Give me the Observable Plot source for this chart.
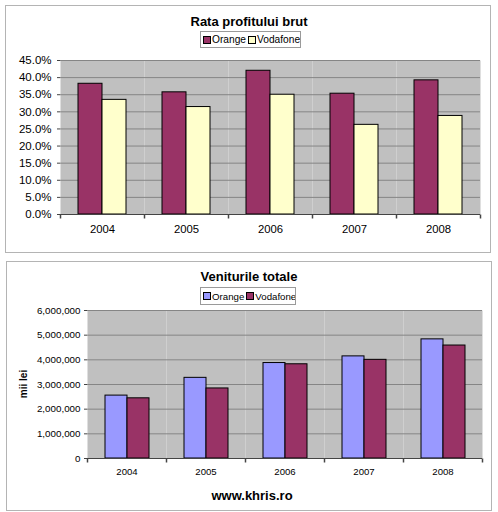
<!DOCTYPE html>
<html>
<head>
<meta charset="utf-8">
<script src="https://cdn.jsdelivr.net/npm/d3@7"></script>
<script src="https://cdn.jsdelivr.net/npm/@observablehq/plot@0.6"></script>
<style>
  html, body { margin: 0; padding: 0; background: #fff; }
  body { width: 498px; height: 512px; position: relative; overflow: hidden; font-family: "Liberation Sans", Arial, sans-serif; }
  .box { position: absolute; border: 1px solid #b4b4b4; box-sizing: border-box; }
  .abs { position: absolute; }
  .chart { position: absolute; left: 0; width: 498px; }
  .title { position: absolute; left: 0; width: 498px; text-align: center; font-weight: bold; font-size: 13px; line-height: 13px; }
  .legend { position: absolute; background: #fff; border: 1px solid #9a9a9a; box-sizing: border-box; display: flex; align-items: center; padding-left: 2px; white-space: nowrap; overflow: hidden; }
  .sw { display: inline-block; width: 6px; height: 6px; border: 1px solid #000; margin-right: 1px; }
  .item { display: inline-flex; align-items: center; margin-right: 2px; }
</style>
</head>
<body>
<div class="box" style="left:5px; top:5px; width:486px; height:248px;"></div>
<div class="box" style="left:6px; top:261px; width:486px; height:250px;"></div>
<div id="c1" class="chart" style="top:0;"></div>
<div id="c2" class="chart" style="top:256px;"></div>
<div class="title" style="top:15px;">Rata profitului brut</div>
<div id="leg1" class="legend" style="left:200px; top:31px; width:101px; height:17px; font-size:10.2px;"></div>
<div class="title" style="top:270px;">Veniturile totale</div>
<div id="leg2" class="legend" style="left:200px; top:287px; width:96px; height:18px; font-size:9.7px;"></div>
<div class="abs" style="left:-1px; top:379px; width:50px; text-align:center; transform: rotate(-90deg); font-weight:bold; font-size:10px; line-height:10px;">mii lei</div>
<div class="title" style="top:489px; left:3px;">www.khris.ro</div>
<script>
// ---- data ----
const years = ["2004", "2005", "2006", "2007", "2008"];
const companies = ["Orange", "Vodafone"];

// Rata profitului brut (share)
const profitOrange   = [0.382, 0.357, 0.420, 0.353, 0.392];
const profitVodafone = [0.335, 0.314, 0.350, 0.262, 0.288];
const profitTicks = [0, 0.05, 0.10, 0.15, 0.20, 0.25, 0.30, 0.35, 0.40, 0.45];

// Veniturile totale (mii lei)
const revenueOrange   = [2550000, 3270000, 3870000, 4140000, 4830000];
const revenueVodafone = [2440000, 2840000, 3820000, 4000000, 4580000];
const revenueTicks = [0, 1000000, 2000000, 3000000, 4000000, 5000000, 6000000];

const colors1 = ["#993366", "#FFFFCC"];
const colors2 = ["#9999FF", "#993366"];

const FONT = '"Liberation Sans", Arial, sans-serif';

function rows(a, b) {
  return years.flatMap((y, i) => [
    {year: y, company: companies[0], value: a[i]},
    {year: y, company: companies[1], value: b[i]}
  ]);
}

const tickSym = {draw(ctx) { ctx.moveTo(0, 0); ctx.lineTo(0, 4); }};

function chart({data, ticks, format, colors, ml, mt, mb, h, fs, fsx, po, tpad}) {
  return Plot.plot({
    width: 498, height: h,
    marginLeft: ml, marginRight: 16, marginTop: mt, marginBottom: mb,
    style: {background: "transparent", fontFamily: FONT, color: "#000", maxWidth: "none", display: "block"},
    fx: {domain: years, padding: 0, label: null},
    x: {domain: companies, paddingInner: 0, paddingOuter: po, axis: null},
    y: {domain: [ticks[0], ticks[ticks.length - 1]], label: null},
    color: {domain: companies, range: colors},
    marks: [
      Plot.frame({fill: "#c0c0c0", stroke: "none"}),
      Plot.gridY(ticks, {stroke: "#858585", strokeOpacity: 1}),
      Plot.barY(data, {fx: "year", x: "company", y: "value", fill: "company", stroke: "#000", strokeWidth: 1}),
      Plot.ruleY([0], {stroke: "#444"}),
      Plot.axisY(ticks, {tickFormat: format, tickSize: 3, tickPadding: tpad, fontSize: fs, line: true, stroke: "#444", label: null}),
      Plot.axisY({anchor: "right", ticks: [], line: true, stroke: "#858585", label: null}),
      Plot.axisFx({anchor: "bottom", tickSize: 0, tickPadding: 10, fontSize: fsx, label: null}),
      Plot.dot(years, {fx: d => d, frameAnchor: "bottom-left", symbol: tickSym, stroke: "#444", fill: "none"}),
      Plot.dot([years[years.length - 1]], {fx: d => d, frameAnchor: "bottom-right", symbol: tickSym, stroke: "#444", fill: "none"})
    ]
  });
}

document.getElementById("c1").append(chart({
  data: rows(profitOrange, profitVodafone), ticks: profitTicks, format: d3.format(".1%"),
  colors: colors1, ml: 58, mt: 60, mb: 36, h: 250, fs: 11.5, fsx: 11.3, po: 0.73, tpad: 6
}));

document.getElementById("c2").append(chart({
  data: rows(revenueOrange, revenueVodafone), ticks: revenueTicks, format: d3.format(","),
  colors: colors2, ml: 86, mt: 54, mb: 54, h: 256, fs: 9.8, fsx: 9.6, po: 0.745, tpad: 4
}));

function legend(id, cols) {
  const el = document.getElementById(id);
  companies.forEach((c, i) => {
    const item = document.createElement("span");
    item.className = "item";
    const sw = document.createElement("span");
    sw.className = "sw";
    sw.style.background = cols[i];
    item.append(sw, document.createTextNode(c));
    el.append(item);
  });
}
legend("leg1", colors1);
legend("leg2", colors2);
</script>
</body>
</html>
